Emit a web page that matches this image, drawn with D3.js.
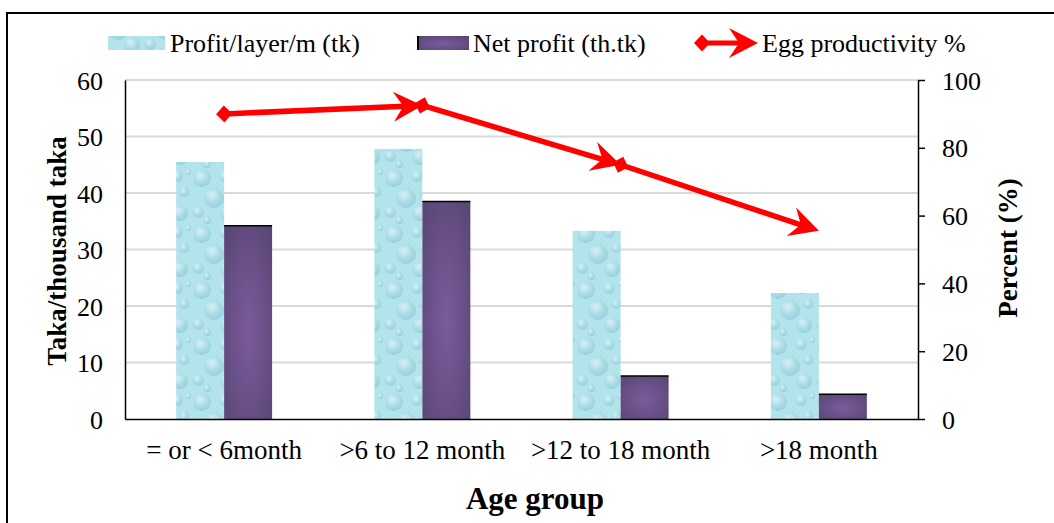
<!DOCTYPE html>
<html><head><meta charset="utf-8">
<script src="https://cdn.jsdelivr.net/npm/d3@7"></script>
<style>
html,body{margin:0;padding:0;background:#fff;}
svg text{font-family:"Liberation Serif","Times New Roman",serif;fill:#000;}
</style></head>
<body><svg id="chart" width="1054" height="523"></svg>
<script>
const categories = ["= or < 6month", ">6 to 12 month", ">12 to 18 month", ">18 month"];
const profitPerLayer = [45.5, 47.8, 33.3, 22.3];
const netProfit = [34.2, 38.5, 7.6, 4.4];
const eggProductivity = [90, 92.5, 75, 55.5];
const leftTicks = [0, 10, 20, 30, 40, 50, 60];
const rightTicks = [0, 20, 40, 60, 80, 100];
const seriesNames = ["Profit/layer/m (tk)", "Net profit (th.tk)", "Egg productivity %"];

const svg = d3.select("#chart");
const L = 125, R = 918, T = 80, B = 419;
const defs = svg.append("defs");

// water drop texture pattern
const pat = defs.append("pattern").attr("id","drops").attr("patternUnits","userSpaceOnUse")
  .attr("width",48).attr("height",56);
pat.append("rect").attr("width",48).attr("height",56).attr("fill","#b3e4ec");
const rg = defs.append("radialGradient").attr("id","drop").attr("cx","40%").attr("cy","35%").attr("r","65%");
rg.append("stop").attr("offset","0%").attr("stop-color","#e3f7fa");
rg.append("stop").attr("offset","60%").attr("stop-color","#a6d9e3");
rg.append("stop").attr("offset","100%").attr("stop-color","#8ccbd6");
[[10,10,9],[33,8,6],[40,24,5],[22,30,10],[6,44,6],[36,45,8],[15,52,4],[44,4,3]].forEach(c=>{
  pat.append("circle").attr("cx",c[0]).attr("cy",c[1]).attr("r",c[2]).attr("fill","url(#drop)").attr("opacity",0.7);
});
// purple gradient
const pg = defs.append("radialGradient").attr("id","purp").attr("cx","50%").attr("cy","55%").attr("r","70%");
pg.append("stop").attr("offset","0%").attr("stop-color","#7a5b9b");
pg.append("stop").attr("offset","100%").attr("stop-color","#5a4676");

// outer frame
svg.append("path").attr("d","M7,523 L7,13 L1054,13").attr("fill","none").attr("stroke","#000").attr("stroke-width",2);

const x = d3.scaleBand().domain(categories).range([L,R]).paddingInner(0.516).paddingOuter(0.258);
const xs = d3.scaleBand().domain([0,1]).range([0, x.bandwidth()]);
const yL = d3.scaleLinear().domain([0,60]).range([B,T]);
const yR = d3.scaleLinear().domain([0,100]).range([B,T]);

// gridlines
svg.append("g").selectAll("line").data(leftTicks.slice(1)).join("line")
  .attr("x1",L).attr("x2",R).attr("y1",d=>yL(d)).attr("y2",d=>yL(d))
  .attr("stroke","#d9d9d9").attr("stroke-width",2);

// bars
const g = svg.append("g");
g.selectAll(".b1").data(profitPerLayer).join("rect")
  .attr("x",(d,i)=>x(categories[i])+xs(0)).attr("width",xs.bandwidth())
  .attr("y",d=>yL(d)).attr("height",d=>B-yL(d)).attr("fill","url(#drops)");
g.selectAll(".b2").data(netProfit).join("rect")
  .attr("x",(d,i)=>x(categories[i])+xs(1)).attr("width",xs.bandwidth())
  .attr("y",d=>yL(d)).attr("height",d=>B-yL(d)).attr("fill","url(#purp)");
g.selectAll(".b2t").data(netProfit).join("line")
  .attr("x1",(d,i)=>x(categories[i])+xs(1)).attr("x2",(d,i)=>x(categories[i])+xs(1)+xs.bandwidth())
  .attr("y1",d=>yL(d)).attr("y2",d=>yL(d)).attr("stroke","#000").attr("stroke-width",1.5);

// axes
const axL = svg.append("g").attr("transform",`translate(${L},0)`)
  .call(d3.axisLeft(yL).tickValues(leftTicks).tickSize(0).tickPadding(22));
axL.select(".domain").attr("stroke","#000").attr("stroke-width",1.5);
axL.selectAll("text").style("font-size","26px").attr("dy","0.35em");

const axR = svg.append("g").attr("transform",`translate(${R},0)`)
  .call(d3.axisRight(yR).tickValues(rightTicks).tickSize(7).tickSizeOuter(0).tickPadding(17));
axR.select(".domain").attr("stroke","#000").attr("stroke-width",1.5);
axR.selectAll(".tick line").attr("stroke","#000").attr("stroke-width",1.5);
axR.selectAll("text").style("font-size","26px").attr("dy","0.35em");

const axB = svg.append("g").attr("transform",`translate(0,${B})`)
  .call(d3.axisBottom(x).tickSize(0).tickPadding(21));
axB.select(".domain").attr("stroke","#000").attr("stroke-width",1.5);
axB.selectAll("text").style("font-size","27px").attr("dy","0.71em");

// markers
function stealth(id){
  const m = defs.append("marker").attr("id",id).attr("markerUnits","userSpaceOnUse")
    .attr("viewBox","-32 -17 34 34").attr("refX",0).attr("refY",0)
    .attr("markerWidth",34).attr("markerHeight",34).attr("orient","auto");
  m.append("path").attr("d","M0,0 L-29,-15 L-19,0 L-29,15 Z").attr("fill","#ff0000");
}
function diamond(id){
  const m = defs.append("marker").attr("id",id).attr("markerUnits","userSpaceOnUse")
    .attr("viewBox","-10 -10 20 20").attr("refX",0).attr("refY",0)
    .attr("markerWidth",20).attr("markerHeight",20).attr("orient","auto");
  m.append("path").attr("d","M-8,0 L0,-8.5 L8,0 L0,8.5 Z").attr("fill","#ff0000");
}
stealth("arr"); diamond("dia");

const pts = eggProductivity.map((v,i)=>[x(categories[i])+x.bandwidth()/2, yR(v)]);
const segs = d3.pairs(pts);
svg.append("g").selectAll("path").data(segs).join("path")
  .attr("d",d=>{
    const [a,b]=d; const dx=b[0]-a[0], dy=b[1]-a[1], len=Math.hypot(dx,dy);
    const e=[b[0]-dx/len*12, b[1]-dy/len*12];
    return d3.line()([a,e]);
  })
  .attr("fill","none").attr("stroke","#ff0000").attr("stroke-width",5.5)
  .attr("marker-start","url(#dia)");
svg.append("g").selectAll("path").data(segs).join("path")
  .attr("d",d=>d3.line()(d))
  .attr("fill","none").attr("stroke","none")
  .attr("marker-end","url(#arr)");

// axis titles
svg.append("text").attr("transform",`translate(66,251) rotate(-90)`)
  .attr("text-anchor","middle").style("font-size","27px").style("font-weight","bold")
  .text("Taka/thousand taka");
svg.append("text").attr("transform",`translate(1017,248) rotate(-90)`)
  .attr("text-anchor","middle").style("font-size","27px").style("font-weight","bold")
  .text("Percent (%)");
svg.append("text").attr("x",535).attr("y",509)
  .attr("text-anchor","middle").style("font-size","31px").style("font-weight","bold")
  .text("Age group");

// legend
const lg = svg.append("g");
lg.append("rect").attr("x",108).attr("y",36).attr("width",57).attr("height",14).attr("fill","url(#drops)");
lg.append("text").attr("x",170).attr("y",52).style("font-size","26px").text(seriesNames[0]);
lg.append("rect").attr("x",417).attr("y",36).attr("width",52).attr("height",14).attr("fill","url(#purp)");
lg.append("rect").attr("x",417).attr("y",36).attr("width",2).attr("height",14).attr("fill","#000");
lg.append("text").attr("x",473).attr("y",52).style("font-size","26px").text(seriesNames[1]);
lg.append("path").attr("d","M702,43 L745,43").attr("stroke","#ff0000").attr("stroke-width",5)
  .attr("marker-start","url(#dia)");
lg.append("path").attr("d","M735,43 L758,43").attr("stroke","none").attr("fill","none")
  .attr("marker-end","url(#arr)");
lg.append("text").attr("x",762).attr("y",52).style("font-size","26px").text(seriesNames[2]);
</script></body></html>
